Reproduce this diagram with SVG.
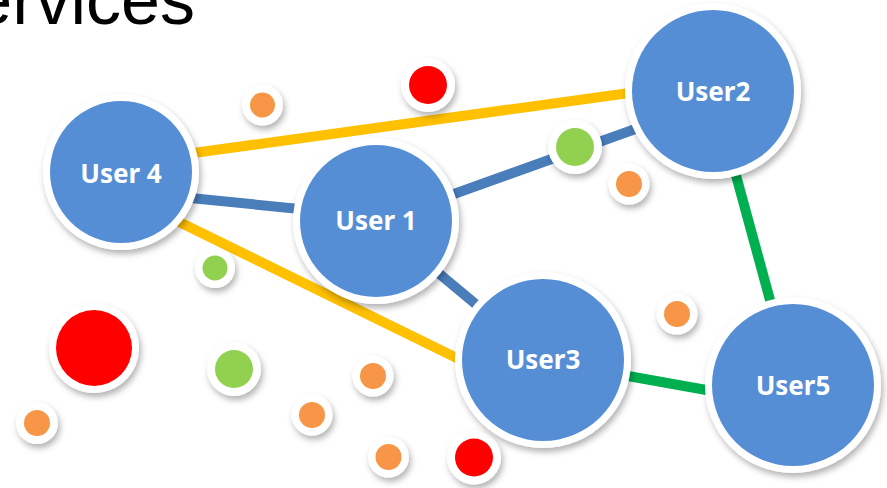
<svg xmlns="http://www.w3.org/2000/svg" width="887" height="488" viewBox="0 0 887 488">
<defs>
<filter id="sh" x="-30%" y="-30%" width="160%" height="170%">
<feDropShadow dx="2" dy="4" stdDeviation="3" flood-color="#000" flood-opacity="0.3"/>
</filter>
<style>
.ring{fill:#fff;filter:url(#sh)}
.user{fill:#558ED5}
.lbl{font-family:"Noto Sans","Open Sans",sans-serif;font-weight:bold;font-size:26px;fill:#fff;text-anchor:middle}
.ln{stroke-width:10;fill:none;stroke-linecap:butt}
.y{stroke:#FFC000}
.b{stroke:#4A7EBB}
.g{stroke:#00B050}
.or{fill:#F79646}
.rd{fill:#FF0000}
.gr{fill:#92D050}
</style>
</defs>
<rect width="887" height="488" fill="#fff"/>
<text x="195" y="24" font-family="'Liberation Sans',Arial,sans-serif" font-size="70" text-anchor="end" fill="#000">ervices</text>
<g id="connectors">
<line class="ln y" x1="150" y1="159" x2="680" y2="86"/>
<line class="ln y" x1="170" y1="217.5" x2="470" y2="364.5"/>
<line class="ln b" x1="150" y1="194" x2="330" y2="212"/>
<line class="ln b" x1="440" y1="199" x2="680" y2="113"/>
<line class="ln b" x1="400" y1="241" x2="520" y2="341"/>
<line class="ln g" x1="725" y1="135" x2="785" y2="355"/>
<line class="ln g" x1="600" y1="371" x2="740" y2="396"/>
</g>
<g id="dot1"><circle class="ring" cx="262.5" cy="105" r="20.5"/><circle class="or" cx="262.5" cy="105" r="12.5"/></g>
<g id="dot2"><circle class="ring" cx="428" cy="85" r="27"/><circle class="rd" cx="428" cy="85" r="19"/></g>
<g id="dot3"><circle class="ring" cx="575" cy="147" r="27"/><circle class="gr" cx="575" cy="147" r="19"/></g>
<g id="dot4"><circle class="ring" cx="629" cy="184" r="20.5"/><circle class="or" cx="629" cy="184" r="13"/></g>
<g id="dot5"><circle class="ring" cx="215" cy="268" r="20"/><circle class="gr" cx="215" cy="268" r="12.5"/></g>
<g id="dot6"><circle class="ring" cx="677" cy="314" r="20.5"/><circle class="or" cx="677" cy="314" r="13"/></g>
<g id="dot7"><circle class="ring" cx="94" cy="348" r="45"/><circle class="rd" cx="94" cy="348" r="38"/></g>
<g id="dot8"><circle class="ring" cx="234" cy="369" r="27"/><circle class="gr" cx="234" cy="369" r="19"/></g>
<g id="dot9"><circle class="ring" cx="373" cy="376" r="20.5"/><circle class="or" cx="373" cy="376" r="13"/></g>
<g id="dot10"><circle class="ring" cx="312" cy="415" r="20.5"/><circle class="or" cx="312" cy="415" r="13"/></g>
<g id="dot11"><circle class="ring" cx="37" cy="423" r="21"/><circle class="or" cx="37" cy="423" r="13"/></g>
<g id="dot12"><circle class="ring" cx="388.5" cy="457" r="20.5"/><circle class="or" cx="388.5" cy="457" r="13"/></g>
<g id="dot13"><circle class="ring" cx="474" cy="457.5" r="27"/><circle class="rd" cx="474" cy="457.5" r="19"/></g>
<g id="user4"><circle class="ring" cx="121" cy="172" r="78"/><circle class="user" cx="121" cy="172" r="71"/><text class="lbl" x="121" y="183">User 4</text></g>
<g id="user1"><circle class="ring" cx="376" cy="221" r="83"/><circle class="user" cx="376" cy="221" r="76"/><text class="lbl" x="376" y="230">User 1</text></g>
<g id="user2"><circle class="ring" cx="713" cy="91" r="88"/><circle class="user" cx="713" cy="91" r="81"/><text class="lbl" x="713" y="101">User2</text></g>
<g id="user3"><circle class="ring" cx="543" cy="360" r="88"/><circle class="user" cx="543" cy="360" r="81"/><text class="lbl" x="543" y="369">User3</text></g>
<g id="user5"><circle class="ring" cx="793" cy="385" r="88"/><circle class="user" cx="793" cy="385" r="81"/><text class="lbl" x="793" y="395">User5</text></g>
</svg>
